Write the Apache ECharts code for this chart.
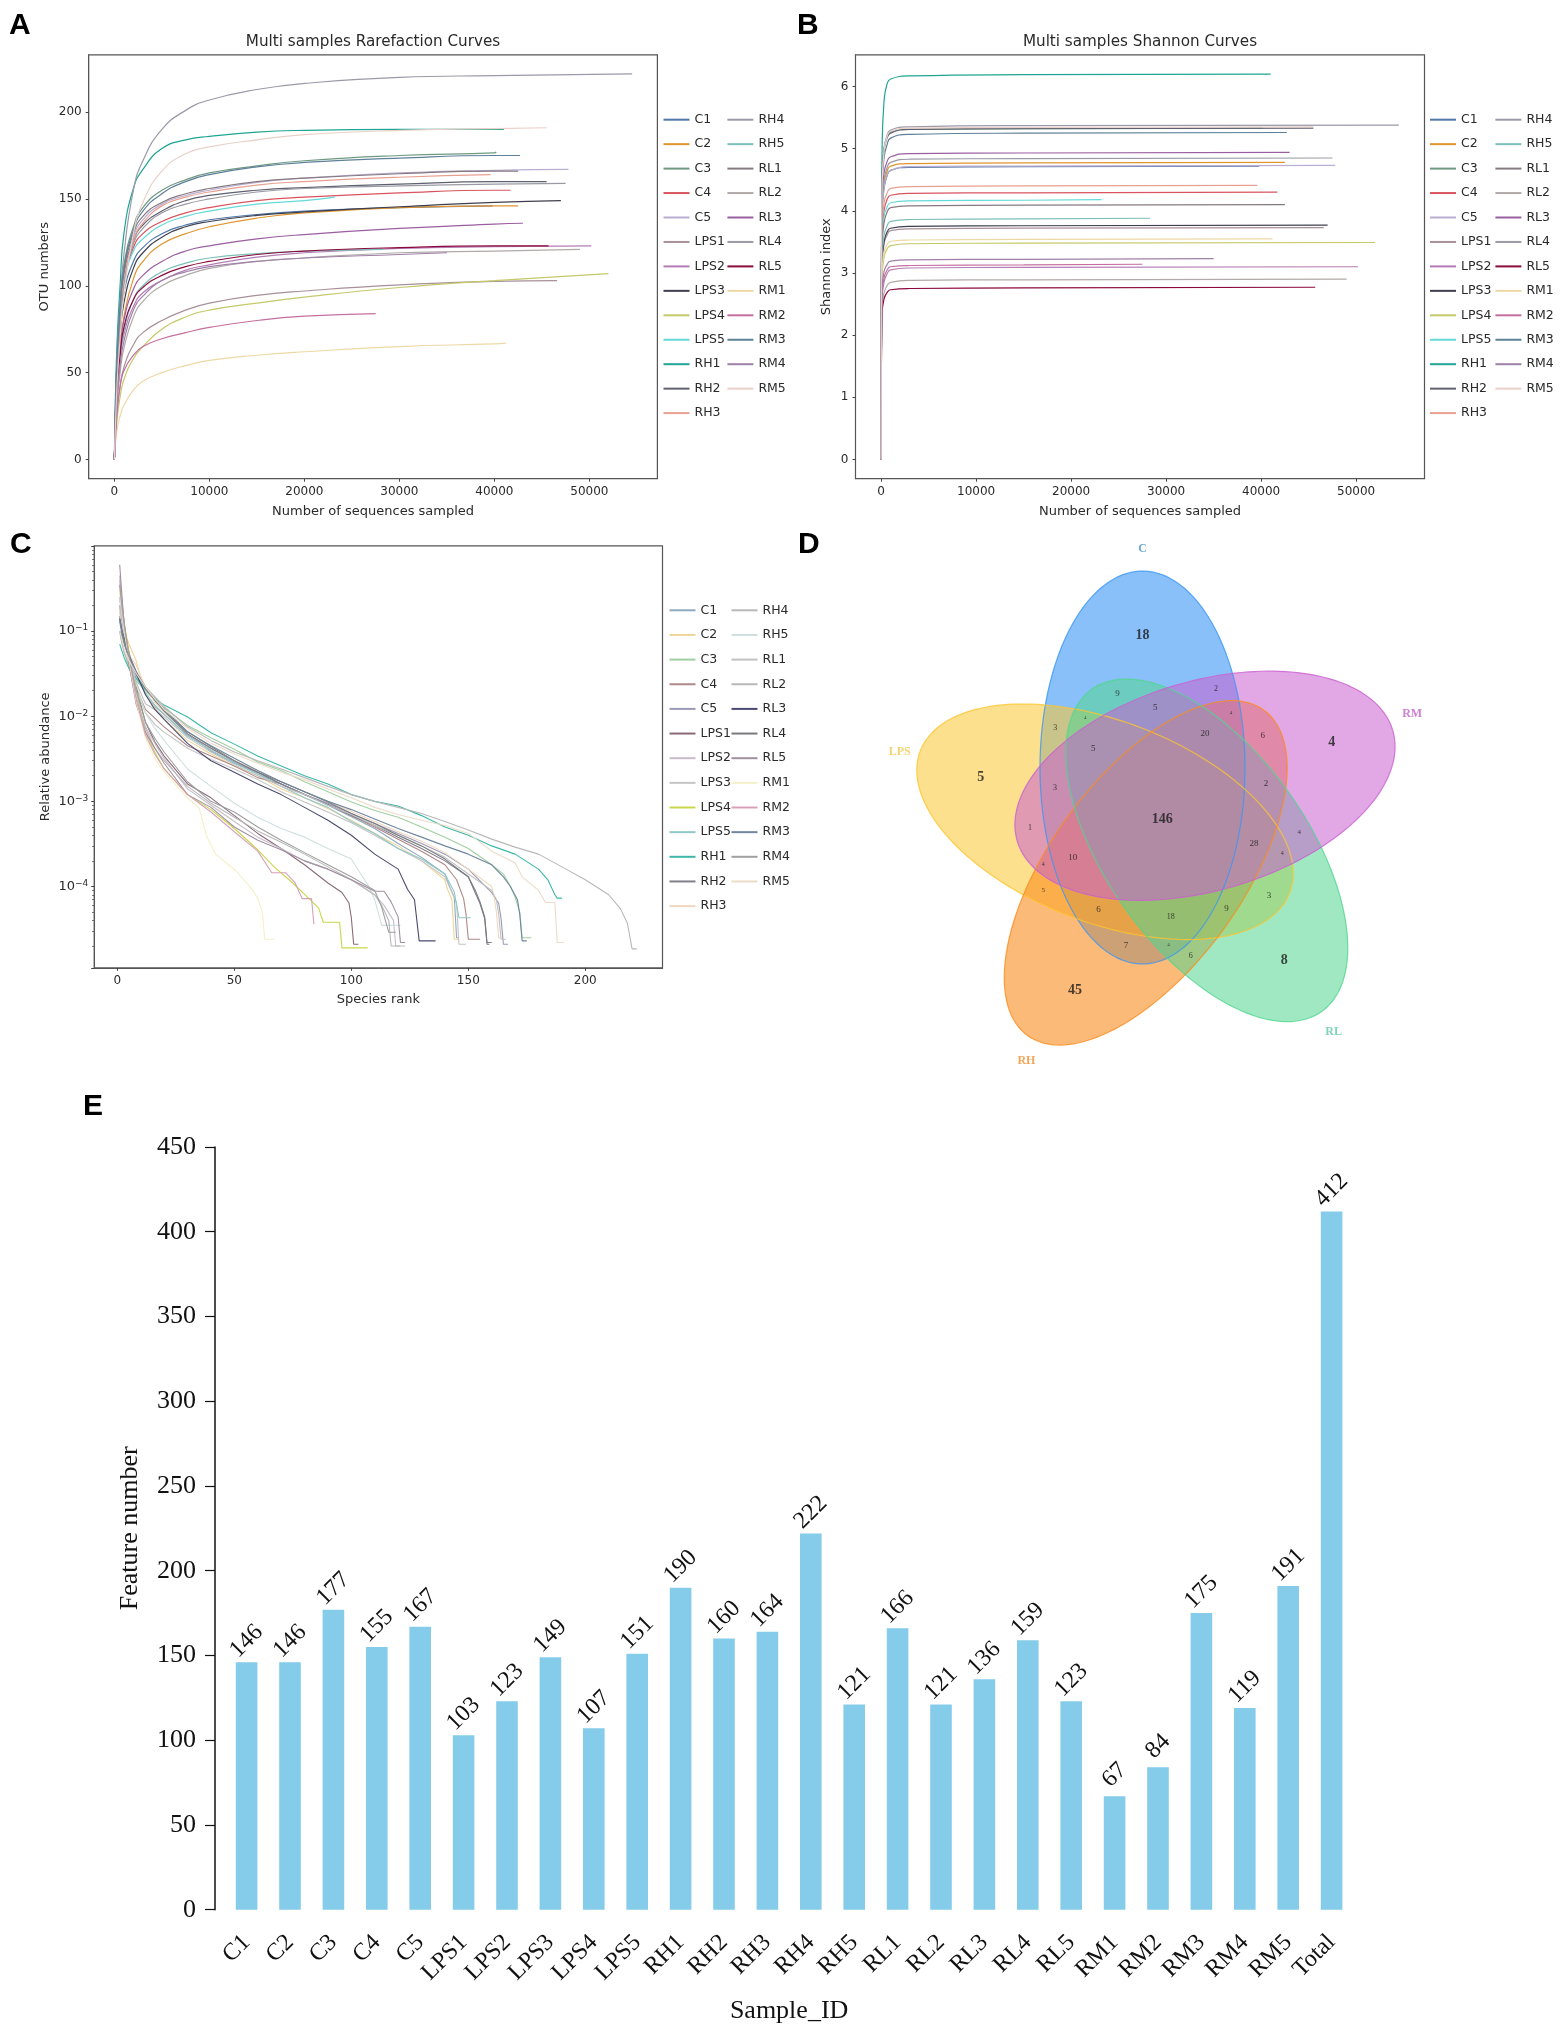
<!DOCTYPE html>
<html><head><meta charset="utf-8">
<style>html,body{margin:0;padding:0;background:#fff}#c{width:1562px;height:2033px}</style>
<script src="https://cdn.jsdelivr.net/npm/echarts@6/dist/echarts.min.js"></script>
</head><body><div id="c"></div>
<script>
const samples = ['C1','C2','C3','C4','C5','LPS1','LPS2','LPS3','LPS4','LPS5','RH1','RH2','RH3','RH4','RH5','RL1','RL2','RL3','RL4','RL5','RM1','RM2','RM3','RM4','RM5'];
const paletteAB = ['#4f77a8','#e0952f','#6f9a82','#d9545e','#b9aed0','#a8909a','#b57db5','#3f3f4f','#c4c96a','#66d9d9','#1fa593','#5f6070','#e8a090','#9a9aa8','#7cc0b8','#857a80','#b0aaa8','#9a5fa0','#9a9aa5','#8b0a3c','#eed9a5','#c56fa0','#5f8099','#a080a8','#ead0c8'];
const paletteC = ['#8fa9c0','#f0d49a','#a0d0a0','#b08888','#9a9ab5','#8a6a7a','#c8bcc8','#c4c4c4','#c8d84a','#90c8c8','#3cb8a8','#7f7f88','#f0d8c0','#b8b8b8','#d0e0e0','#c0c0c0','#b8b8b8','#4a4a70','#7a7a80','#a090a0','#f5f0c8','#d8a0b8','#6f88a0','#a0a0a0','#ecdcc8'];
const seqEnds = [39800,42500,40200,41700,47800,46600,50200,47000,52000,23200,41000,45500,39600,54500,28300,42500,49000,43000,47500,45700,41200,27500,42700,35000,45500];

// Panel A: OTU numbers at rareX, last value at the sample's own sequence count
const rareX = [0,100,300,600,1000,2000,3000,5000,7500,10000,15000,20000,30000,40000];
const rarefaction = [
 [0,22,52,78,96,114,122,130,135,138,141,143,145,146],
 [0,18,42,64,82,104,114,124,130,134,139,142,145,146,146],
 [0,26,62,92,112,134,145,155,161,165,169,172,175,176.5,177],
 [0,24,56,82,102,122,130,137,142,145,149,151,153.5,155,155],
 [0,25,58,84,106,128,138,147,152,155,159.5,162,165,166.5,167],
 [0,12,28,42,53,66,73,80,86,90,94.5,97,100.5,102.5,103],
 [0,16,38,58,72,88,96,103,109,112,116.5,119,121.5,122.5,123],
 [0,20,48,72,90,110,119,128,134,137,140.5,142.5,145.5,148,149],
 [0,10,24,36,46,58,65,75,82,86,90,93.5,99,103,107],
 [0,25,60,85,102,120,127,135,140,143,147,149,151],
 [0,34,70,100,130,156,167,179,184,186,188.5,189.5,190,190,190],
 [0,24,56,84,106,126,135,143,149,152,155,156.5,158.5,160,160],
 [0,22,54,82,104,126,136,146,151,154,158,160,162.5,164],
 [0,30,62,90,118,155,172,190,201,207,213,216.5,220,221,222],
 [0,15,38,58,74,92,100,108,113,116,118.5,120,121],
 [0,24,56,84,108,130,140,148,153,156,160,162,164.5,166,166],
 [0,14,32,50,64,82,91,100,106,110,114,116,119,120,121],
 [0,18,42,62,80,98,106,114,120,123,127,129.5,133,135.5,136],
 [0,22,52,78,100,124,133,142,147,150,154,156,157.5,158.5,159],
 [0,18,42,60,76,92,99,106,111,114,118,120,122,123,123],
 [0,8,18,25,31,40,45,50,54,57,60,62,65,66.5,67],
 [0,11,28,42,51,60,65,69.5,73,76,80,82.5,84],
 [0,26,60,88,110,132,143,153,160,164,168.5,171,173.5,175,175],
 [0,15,36,54,68,86,94,103,108,111,114,116,118,119],
 [0,18,45,70,95,130,148,166,176,180,184,187,189.5,190.5,191]
];

// Panel B: Shannon index at shannonX, last value at the sample's own sequence count
const shannonX = [0,20,50,100,300,600,1000,3000,15000];
const shannon = [
 [0,2.0,3.1,3.95,4.36,4.55,4.65,4.70,4.71,4.72],
 [0,2.1,3.15,4.0,4.45,4.62,4.72,4.76,4.77,4.78],
 [0,2.4,3.6,4.5,5.0,5.18,5.27,5.31,5.32,5.33],
 [0,1.9,2.85,3.6,4.0,4.17,4.25,4.28,4.29,4.30],
 [0,2.0,3.1,3.95,4.38,4.56,4.65,4.71,4.72,4.73],
 [0,1.6,2.45,3.1,3.47,3.6,3.68,3.71,3.72,3.73],
 [0,1.4,2.05,2.6,2.85,2.98,3.05,3.08,3.09,3.10],
 [0,1.65,2.5,3.15,3.5,3.65,3.72,3.75,3.76,3.77],
 [0,1.5,2.3,2.9,3.25,3.38,3.44,3.47,3.48,3.49],
 [0,1.8,2.75,3.5,3.9,4.05,4.13,4.16,4.17,4.18],
 [0,2.6,3.9,5.0,5.75,6.03,6.12,6.17,6.19,6.20],
 [0,2.4,3.6,4.5,4.98,5.16,5.25,5.31,5.32,5.33],
 [0,1.9,2.9,3.7,4.12,4.28,4.36,4.39,4.40,4.41],
 [0,2.4,3.6,4.5,5.0,5.2,5.3,5.35,5.37,5.38],
 [0,1.7,2.55,3.25,3.6,3.75,3.83,3.86,3.87,3.88],
 [0,1.8,2.7,3.45,3.8,3.97,4.05,4.08,4.09,4.10],
 [0,1.3,1.95,2.45,2.68,2.79,2.85,2.88,2.89,2.90],
 [0,2.2,3.3,4.15,4.6,4.78,4.87,4.92,4.93,4.94],
 [0,2.1,3.2,4.05,4.5,4.68,4.78,4.83,4.84,4.85],
 [0,1.2,1.85,2.35,2.58,2.68,2.73,2.75,2.76,2.77],
 [0,1.6,2.4,3.0,3.33,3.45,3.51,3.53,3.54,3.55],
 [0,1.4,2.1,2.65,2.92,3.04,3.1,3.12,3.13,3.14],
 [0,2.3,3.5,4.4,4.85,5.05,5.17,5.23,5.25,5.26],
 [0,1.4,2.15,2.75,3.02,3.13,3.19,3.21,3.22,3.23],
 [0,2.3,3.5,4.4,4.95,5.18,5.28,5.33,5.34,5.35]
];

// Panel C: relative abundance at abundRanks, followed by each sample's stepped tail [rank, value]
const abundRanks = [1,2,3,5,8,12,16,20,30,40,50,60,70,80,90,100,110,120,130,140,150,160,170,180,190,200,210];
const abundance = [
 [.15,.11,.085,.055,.032,.018,.013,.0105,.006,.0042,.0029,.0021,.0016,.0012,.0009,.00066,.00048,.00032,.00022,.00014],
 [.15,.12,.1,.07,.045,.018,.0125,.0092,.0052,.0036,.0026,.002,.0014,.0011,.00082,.0006,.00042,.0003,.0002,.00012],
 [.1,.072,.055,.038,.026,.02,.0155,.0125,.0078,.0056,.0041,.0029,.0023,.0017,.0013,.00098,.00078,.00065,.0005,.00038,.00028,.00018],
 [.2,.12,.08,.045,.022,.012,.0095,.0075,.0045,.0034,.0026,.0019,.0016,.0012,.00092,.00068,.0005,.00036,.00026,.00018],
 [.15,.1,.07,.048,.03,.021,.016,.012,.0062,.0039,.0028,.0022,.0016,.0012,.00095,.00072,.00055,.00042,.00032,.00024,.00016,.000085],
 [.25,.16,.11,.055,.022,.0085,.005,.0034,.0016,.0011,.00068,.00042,.00028,.00018],
 [.4,.2,.1,.04,.016,.0075,.0048,.0032,.0014,.0009,.00058,.00038,.00028,.0002,.00016,.00012,.00008],
 [.25,.14,.09,.05,.02,.011,.008,.0065,.0042,.0031,.0024,.0018,.0013,.00098,.00075,.00056,.0004,.00028,.0002,.00013],
 [.3,.18,.12,.055,.02,.0065,.0038,.0024,.0012,.0008,.00048,.00027],
 [.17,.12,.085,.05,.028,.019,.0135,.0105,.0058,.004,.0028,.0021,.0015,.0011,.00085,.00058,.00042,.00028,.00021,.00014],
 [.07,.058,.048,.036,.028,.021,.016,.0135,.0098,.0064,.0047,.0034,.0026,.002,.0016,.0012,.001,.00088,.00068,.0005,.0004,.0003,.00024,.00016],
 [.1,.085,.07,.05,.032,.021,.015,.012,.0066,.0044,.003,.0022,.0016,.0012,.00092,.00068,.00052,.00038,.00028,.0002,.00013],
 [.17,.11,.08,.052,.04,.022,.0145,.011,.0062,.0042,.003,.0023,.0017,.0013,.001,.00076,.00058,.00044,.00034,.00025,.00016,.0001],
 [.1,.07,.055,.04,.03,.022,.017,.013,.0075,.0052,.0038,.003,.0024,.0019,.0015,.0012,.001,.00085,.00072,.00058,.00046,.00036,.00029,.00024,.00017,.00012,.00008],
 [.25,.14,.09,.05,.024,.011,.0072,.0052,.0024,.0015,.00095,.00065,.00048,.00038,.00028,.00021],
 [.2,.12,.08,.05,.025,.014,.012,.0098,.0056,.0038,.0027,.002,.0015,.0012,.0009,.0007,.00052,.0004,.0003,.00022,.00014,.00009],
 [.45,.22,.12,.045,.017,.0072,.0042,.003,.0015,.00095,.00065,.00045,.00033,.00024,.00017,.00012,.00008],
 [.14,.1,.08,.052,.032,.018,.012,.0092,.0048,.003,.0022,.0016,.0012,.00085,.0006,.0004,.00024,.00016],
 [.14,.1,.078,.052,.034,.021,.0155,.0115,.0062,.0042,.003,.0022,.0017,.0013,.00098,.00072,.00055,.0004,.0003,.00021,.00013],
 [.6,.25,.11,.04,.014,.0065,.0042,.0028,.0012,.00085,.0005,.00035,.00027,.0002,.00016,.00012,.000088],
 [.3,.18,.1,.045,.015,.0055,.0032,.0022,.0011],
 [.35,.18,.11,.05,.016,.006,.0036,.0024,.0012,.00075,.00044,.00026],
 [.13,.09,.07,.05,.033,.022,.016,.012,.0065,.0045,.0032,.0023,.0017,.0013,.001,.0008,.00062,.00048,.00038,.0003,.00024,.00018],
 [.35,.2,.12,.05,.02,.0085,.0055,.0038,.0017,.001,.00075,.0005,.00035,.00025,.00018,.00013,.00009],
 [.1,.08,.06,.045,.032,.022,.016,.012,.0072,.0048,.0036,.0028,.0022,.0018,.0014,.0011,.00085,.0007,.0006,.00052,.00042,.00026,.00019]
];
const abundTail = [
 [[142,.0001],[144,.000075],[145,.000025],[146,.000025]],
 [[141,.000094],[143,.00007],[144,.000024],[146,.000024]],
 [[165,.00014],[168,.0001],[170,.000075],[172,.00005],[173,.000025],[177,.000025]],
 [[145,.00012],[148,.000072],[149,.000048],[150,.000024],[155,.000024]],
 [[163,.000063],[164,.000042],[165,.000021],[167,.000021]],
 [[90,.00011],[96,.000085],[99,.000064],[100,.000043],[101,.000021],[103,.000021]],
 [[114,.00006],[118,.00004],[119,.00002],[123,.00002]],
 [[143,.000085],[145,.000064],[146,.000021],[149,.000021]],
 [[67,.00017],[75,.00011],[81,.000076],[86,.000056],[88,.000038],[95,.000038],[96,.000019],[107,.000019]],
 [[144,.000086],[146,.000043],[151,.000043]],
 [[184,.00012],[187,.00008],[188,.000073],[190,.000073]],
 [[153,.00009],[155,.000066],[157,.000044],[158,.000022],[160,.000022]],
 [[161,.000076],[162,.00005],[163,.000025],[164,.000025]],
 [[215,.000055],[218,.000037],[220,.0000185],[222,.0000185]],
 [[104,.00014],[107,.000106],[110,.00007],[113,.000035],[121,.000035]],
 [[162,.00007],[163,.000047],[164,.000024],[166,.000024]],
 [[113,.00006],[116,.00004],[117,.00002],[121,.00002]],
 [[124,.000093],[127,.00007],[129,.000023],[136,.000023]],
 [[153,.000084],[155,.000063],[157,.000042],[158,.000021],[159,.000021]],
 [[114,.000088],[117,.000066],[120,.000044],[121,.000022],[123,.000022]],
 [[35,.00083],[38,.0004],[42,.00024],[51,.00015],[57,.000097],[60,.000073],[62,.000049],[63,.000024],[67,.000024]],
 [[66,.000145],[72,.000145],[76,.00011],[79,.000072],[83,.000072],[84,.000036]],
 [[165,.00013],[168,.0001],[171,.00007],[172,.000047],[173,.000023],[175,.000023]],
 [[113,.000057],[116,.000029],[119,.000029]],
 [[173,.00013],[180,.00009],[183,.000065],[187,.000065],[188,.000022],[191,.000022]]
];

// Panel D
const vennSets = ['C','LPS','RH','RL','RM'];
const vennColors = ['#3b96f5','#fcc630','#fa8c1e','#52d690','#c960cf'];
const vennLabelColors = ['#4a90c0','#f0c850','#f09030','#5fc8a8','#c060c8'];
const vennCounts = [18,5,4,146,8,45, 9,5,20,6,3,5,3,2,28,10,6,18,9,3,7,6,5,1,2,4, 4,4,4,4,4];

// Panel E
const barCategories = samples.concat(['Total']);
const barValues = [146,146,177,155,167,103,123,149,107,151,190,160,164,222,121,166,121,136,159,123,67,84,175,119,191,412];

// ---------- layout ----------
const SANS = 'DejaVu Sans', SERIF = 'Liberation Serif', TXT = '#2a2a2a', FRAME = '#555';
const vennEllipses = [[735,693,550,287,90],[630,845,554,282,21],[744,988,563,269,-54],[915,925,554,281,54.5],[910,744,548,293,-16.4]];
const vennLabelPos = [[735,82],[55,648],[410,1515],[1270,1432],[1490,543]];
const vennPos = [[735,323,14],[282,720,14],[1265,622,14],[790,838,14],[1132,1233,14],[546,1318,14],
 [665,487,9],[771,526,9],[910,599,9],[1072,605,9],[491,583,8],[597,640,9],[490,751,8],[1081,739,9],[1047,906,9],[540,945,9],[612,1090,9],[814,1110,8],[970,1088,9],[1089,1053,9],[689,1192,9],[870,1220,8],[457,1036,7],[420,863,8],[941,473,8],[1174,875,7],
 [575,553,5],[983,540,5],[457,963,6],[1126,934,6],[808,1190,5]];
const tickValsX = [0,10000,20000,30000,40000,50000];
const tickValsRank = [0,50,100,150,200];
const tickValsOtu = [0,50,100,150,200];
const tickValsH = [0,1,2,3,4,5,6];

function frameAxis(extra){
  return Object.assign({
    axisLine:{show:true,onZero:false,lineStyle:{color:FRAME,width:1}},
    splitLine:{show:false},
    nameLocation:'middle',
    nameTextStyle:{fontFamily:SANS,fontSize:13,color:TXT}
  },extra);
}
function ticks(vals){
  return {axisTick:{show:true,length:3,lineStyle:{color:'#444'},customValues:vals},
    axisLabel:{fontFamily:SANS,fontSize:12,color:TXT,margin:7,customValues:vals,formatter:v=>String(Math.round(v))}};
}
const panels = [
 {left:88.7,top:54.8,w:568.7,h:423.9},
 {left:855.5,top:54.8,w:569,h:423.9},
 {left:94.2,top:545.9,w:568.3,h:421.9}
];
const grid = panels.map(p=>({left:p.left,top:p.top,width:p.w,height:p.h,show:true,borderColor:FRAME,borderWidth:1.2,backgroundColor:'#fff'}));
grid.push({left:880,top:520,width:560,height:560});
grid.push({left:224.9,top:1147,width:1128.4,height:762.7});

const xAxis = [
 frameAxis(Object.assign({type:'value',gridIndex:0,min:-2705,max:57158,name:'Number of sequences sampled',nameGap:26},ticks(tickValsX))),
 frameAxis(Object.assign({type:'value',gridIndex:1,min:-2700,max:57200,name:'Number of sequences sampled',nameGap:26},ticks(tickValsX))),
 frameAxis(Object.assign({type:'value',gridIndex:2,min:-9.9,max:233,name:'Species rank',nameGap:25},ticks(tickValsRank))),
 {type:'value',gridIndex:3,min:0,max:1568,show:false},
 {type:'category',gridIndex:4,data:barCategories,axisLine:{show:false},axisTick:{show:false},
  name:'Sample_ID',nameLocation:'middle',nameGap:88,nameTextStyle:{fontFamily:SERIF,fontSize:26,color:'#111'},
  axisLabel:{interval:0,rotate:45,margin:29,fontFamily:SERIF,fontSize:24,color:'#111'}}
];
const yAxis = [
 frameAxis(Object.assign({type:'value',gridIndex:0,min:-11.1,max:233,name:'OTU numbers',nameGap:38},ticks(tickValsOtu))),
 frameAxis(Object.assign({type:'value',gridIndex:1,min:-0.31,max:6.51,name:'Shannon index',nameGap:22},ticks(tickValsH))),
 frameAxis({type:'log',logBase:10,gridIndex:2,min:1.11e-5,max:1,name:'Relative abundance',nameGap:42,
  axisTick:{show:true,length:3,lineStyle:{color:'#444'}},
  minorTick:{show:true,splitNumber:9,length:2,lineStyle:{color:'#666'}},
  axisLabel:{fontFamily:SANS,color:TXT,fontSize:12,margin:6,
    formatter:v=>{const e=Math.log10(v);if(Math.abs(e-Math.round(e))>1e-6||e>-1||e<-4)return'';return '{b|10}{s|\u2212'+Math.abs(Math.round(e))+'}';},
    rich:{b:{fontFamily:SANS,fontSize:13,color:TXT},s:{fontFamily:SANS,fontSize:9,color:TXT,verticalAlign:'top',padding:[0,0,6,0]}}}}),
 {type:'value',gridIndex:3,min:0,max:1568,inverse:true,show:false},
 {type:'value',gridIndex:4,min:0,max:450,interval:50,offset:9.9,
  name:'Feature number',nameLocation:'middle',nameGap:72,nameTextStyle:{fontFamily:SERIF,fontSize:26,color:'#111'},
  axisLine:{show:true,lineStyle:{color:'#111',width:1.5}},axisTick:{show:true,length:10,lineStyle:{color:'#111',width:1.2}},splitLine:{show:false},
  axisLabel:{fontFamily:SERIF,fontSize:26,color:'#111',margin:19}}
];

const series = [];
samples.forEach((name,i)=>{
  const xs = rareX.filter(x=>x<seqEnds[i]).concat([seqEnds[i]]);
  series.push({name,type:'line',xAxisIndex:0,yAxisIndex:0,symbol:'none',smooth:0.5,silent:true,
    color:paletteAB[i],lineStyle:{width:1.2},data:rarefaction[i].map((v,k)=>[xs[k],v])});
});
samples.forEach((name,i)=>{
  const xs = shannonX.concat([seqEnds[i]]);
  series.push({name,type:'line',xAxisIndex:1,yAxisIndex:1,symbol:'none',smooth:0.5,silent:true,
    color:paletteAB[i],lineStyle:{width:1.2},data:shannon[i].map((v,k)=>[xs[k],v])});
});
samples.forEach((name,i)=>{
  const head = abundance[i].map((v,k)=>[abundRanks[k],v]);
  series.push({name:name+' ',type:'line',xAxisIndex:2,yAxisIndex:2,symbol:'none',silent:true,
    color:paletteC[i],lineStyle:{width:1.1},data:head.concat(abundTail[i])});
});
function ellipsePoints(i,api){
  const [cx,cy,a,b,deg]=vennEllipses[i],t=deg*Math.PI/180,pts=[];
  for(let k=0;k<180;k++){const u=k/180*2*Math.PI,ex=a*Math.cos(u),ey=b*Math.sin(u);
    pts.push(api.coord([cx+ex*Math.cos(t)-ey*Math.sin(t),cy+ex*Math.sin(t)+ey*Math.cos(t)]));}
  return pts;
}
series.push({type:'custom',name:'Venn',xAxisIndex:3,yAxisIndex:3,silent:true,
  data:vennSets.map((s,i)=>[i]),
  renderItem:(params,api)=>{const i=api.value(0);
    return {type:'polygon',shape:{points:ellipsePoints(i,api)},style:{fill:vennColors[i],opacity:i===0||i===2?0.6:0.55,stroke:null}};}});
series.push({type:'custom',name:'VennEdge',xAxisIndex:3,yAxisIndex:3,silent:true,
  data:vennSets.map((s,i)=>[i]),
  renderItem:(params,api)=>{const i=api.value(0);
    return {type:'polygon',shape:{points:ellipsePoints(i,api)},style:{fill:'none',stroke:vennColors[i],lineWidth:1.2,opacity:.8}};}});
series.push({type:'scatter',name:'VennSets',xAxisIndex:3,yAxisIndex:3,symbolSize:0,silent:true,
  data:vennSets.map((s,i)=>({value:vennLabelPos[i],label:{show:true,position:'inside',formatter:s,color:vennLabelColors[i],fontFamily:SERIF,fontWeight:'bold',fontSize:12}}))});
series.push({type:'scatter',name:'VennCounts',xAxisIndex:3,yAxisIndex:3,symbolSize:0,silent:true,
  data:vennCounts.map((c,i)=>({value:vennPos[i].slice(0,2),label:{show:true,position:'inside',formatter:String(c),color:'#1a1a1a',fontFamily:SERIF,fontWeight:vennPos[i][2]>10?'bold':'normal',fontSize:vennPos[i][2]}}))});
series.push({type:'bar',name:'Feature number',xAxisIndex:4,yAxisIndex:4,data:barValues,barWidth:21.6,silent:true,
  itemStyle:{color:'#85CCEA'},
  label:{show:true,position:'top',distance:21,rotate:45,align:'center',verticalAlign:'middle',fontFamily:SERIF,fontSize:24,color:'#111'}});

function legends(left1,left2,top,gap,suffix){
  const mk=(names,left)=>({orient:'vertical',left,top,itemWidth:26,itemHeight:14,itemGap:gap,selectedMode:false,padding:0,
    itemStyle:{color:'rgba(0,0,0,0)',borderColor:'rgba(0,0,0,0)',borderWidth:0,opacity:0},
    data:names.map(n=>n+suffix),formatter:n=>n.trim(),textStyle:{fontFamily:SANS,fontSize:12.5,color:TXT}});
  return [mk(samples.slice(0,13),left1),mk(samples.slice(13),left2)];
}
const legend = [].concat(
  legends(662.5,726.4,113.2,11.45,''),
  legends(1429,1494.4,113.2,11.45,''),
  legends(668.5,730.5,603.8,11.65,' ')
);

function letter(t,left,top){return {text:t,left,top,padding:0,textStyle:{fontFamily:'Liberation Sans',fontWeight:'bold',fontSize:30,color:'#000'}};}
function heading(t,cx,top){return {text:t,left:cx,top,padding:0,textAlign:'center',textStyle:{fontFamily:SANS,fontWeight:'normal',fontSize:15.2,color:TXT}};}
const title = [
 letter('A',9,11),letter('B',797,11),letter('C',10,530),letter('D',798,530),letter('E',83,1092),
 heading('Multi samples Rarefaction Curves',373,35),heading('Multi samples Shannon Curves',1140,35)
];

const chart = echarts.init(document.getElementById('c'),null,{renderer:'canvas',width:1562,height:2033});
chart.setOption({animation:false,backgroundColor:'#fff',title,legend,grid,xAxis,yAxis,series,tooltip:{show:false}});
</script></body></html>
